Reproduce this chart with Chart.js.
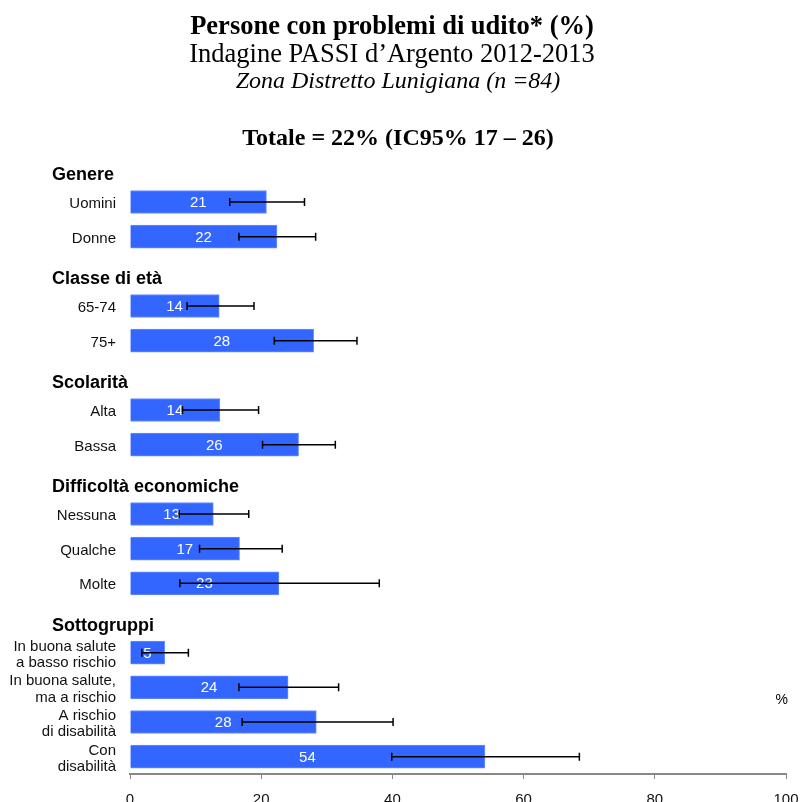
<!DOCTYPE html>
<html>
<head>
<meta charset="utf-8">
<script src="https://cdn.jsdelivr.net/npm/chart.js@4/dist/chart.umd.min.js"></script>
<style>
  body { margin: 0; background: #fff; overflow: hidden; }
  #wrap { position: relative; width: 801px; height: 802px; }
  .t { position: absolute; left: 0; text-align: center; color: #000; font-family: "Liberation Serif", "Times New Roman", serif; white-space: nowrap; }
  #t1 { top: 10px; width: 784px; font-size: 26.5px; line-height: 31.8px; font-weight: bold; }
  #t2 { top: 38px; width: 784px; font-size: 26.5px; line-height: 31.8px; }
  #t3 { top: 66px; width: 796px; font-size: 24px; line-height: 28.8px; font-style: italic; }
  #t4 { top: 123px; width: 796px; font-size: 24px; line-height: 28.8px; font-weight: bold; }
  canvas { position: absolute; left: 0; top: 0; }
</style>
</head>
<body>
<div id="wrap">
  <canvas id="chart" width="801" height="802"></canvas>
  <div class="t" id="t1">Persone con problemi di udito* (%)</div>
  <div class="t" id="t2">Indagine PASSI d’Argento 2012-2013</div>
  <div class="t" id="t3">Zona Distretto Lunigiana (n =84)</div>
  <div class="t" id="t4">Totale = 22% (IC95% 17 – 26)</div>
</div>
<script>
// rows: empty label = group header slot
const rowLabels = ['', 'Uomini', 'Donne', '', '65-74', '75+', '', 'Alta', 'Bassa', '',
  'Nessuna', 'Qualche', 'Molte', '',
  ['In buona salute', 'a basso rischio'], ['In buona salute,', 'ma a rischio'],
  ['A rischio', 'di disabilità'], ['Con', 'disabilità']];
const values = [null, 20.8, 22.4, null, 13.6, 28.0, null, 13.7, 25.7, null, 12.7, 16.7, 22.7, null, 5.3, 24.1, 28.4, 54.1];
const ciLow  = [null, 15.2, 16.6, null, 8.7, 22.0, null, 8.0, 20.2, null, 7.5, 10.6, 7.6, null, 1.8, 16.6, 17.1, 39.9];
const ciHigh = [null, 26.6, 28.3, null, 18.9, 34.6, null, 19.6, 31.3, null, 18.1, 23.2, 38.0, null, 8.9, 31.8, 40.1, 68.5];
const groupTitles = ['Genere', 'Classe di età', 'Scolarità', 'Difficoltà economiche', 'Sottogruppi'];
const groupRows = [0, 3, 6, 9, 13];
const xTicks = [0, 20, 40, 60, 80, 100];

const SANS = '"Liberation Sans", Arial, sans-serif';

const overlay = {
  id: 'overlay',
  afterDatasetsDraw(chart) {
    const { ctx, scales: { x, y }, chartArea } = chart;
    const meta = chart.getDatasetMeta(0);
    const x0 = x.getPixelForValue(0);
    ctx.save();

    // values inside bars
    ctx.font = '15px ' + SANS;
    ctx.fillStyle = '#fff';
    ctx.textAlign = 'center';
    ctx.textBaseline = 'middle';
    values.forEach((v, i) => {
      if (v == null) return;
      const bar = meta.data[i];
      ctx.fillText(String(Math.round(v)), (x0 + bar.x) / 2, bar.y + 1);
    });

    // confidence intervals
    ctx.strokeStyle = '#000';
    ctx.lineWidth = 1.5;
    values.forEach((v, i) => {
      if (ciLow[i] == null) return;
      const yy = meta.data[i].y;
      const a = x.getPixelForValue(ciLow[i]);
      const b = x.getPixelForValue(ciHigh[i]);
      ctx.beginPath();
      ctx.moveTo(a, yy); ctx.lineTo(b, yy);
      ctx.moveTo(a, yy - 4); ctx.lineTo(a, yy + 4);
      ctx.moveTo(b, yy - 4); ctx.lineTo(b, yy + 4);
      ctx.stroke();
    });

    // group headers
    ctx.font = 'bold 18px ' + SANS;
    ctx.fillStyle = '#000';
    ctx.textAlign = 'left';
    groupRows.forEach((r, k) => {
      ctx.fillText(groupTitles[k], 52, y.getPixelForValue(r) + 8);
    });

    // unit
    ctx.font = '14px ' + SANS;
    ctx.textAlign = 'right';
    ctx.fillText('%', chartArea.right + 2, y.getPixelForValue(15) + 13);
    ctx.restore();
  }
};

new Chart(document.getElementById('chart'), {
  type: 'bar',
  data: {
    labels: rowLabels,
    datasets: [{
      data: values,
      backgroundColor: '#3366ff',
      borderColor: '#6b8fff',
      borderWidth: 1,
      barThickness: 23
    }]
  },
  options: {
    indexAxis: 'y',
    responsive: false,
    animation: false,
    layout: { padding: { top: 150, right: 15, left: 0, bottom: 0 } },
    plugins: { legend: { display: false }, tooltip: { enabled: false } },
    scales: {
      y: {
        grid: { display: false, drawTicks: false },
        border: { display: false },
        ticks: {
          autoSkip: false,
          crossAlign: 'near',
          padding: 14,
          labelOffset: 2,
          color: '#111',
          font: { family: SANS, size: 15, lineHeight: 1.1 }
        },
        afterFit(s) { s.width = 130; s.paddingTop = 0; s.paddingBottom = 0; }
      },
      x: {
        min: 0,
        max: 100,
        afterBuildTicks(s) { s.ticks = xTicks.map(v => ({ value: v })); },
        grid: { drawOnChartArea: false, drawTicks: true, tickLength: 5, color: '#888' },
        border: { color: '#888', width: 2 },
        ticks: { color: '#111', padding: 12, maxRotation: 0, font: { family: SANS, size: 15 } },
        afterFit(s) { s.height = 28; s.paddingLeft = 0; s.paddingRight = 0; }
      }
    }
  },
  plugins: [overlay]
});
</script>
</body>
</html>
